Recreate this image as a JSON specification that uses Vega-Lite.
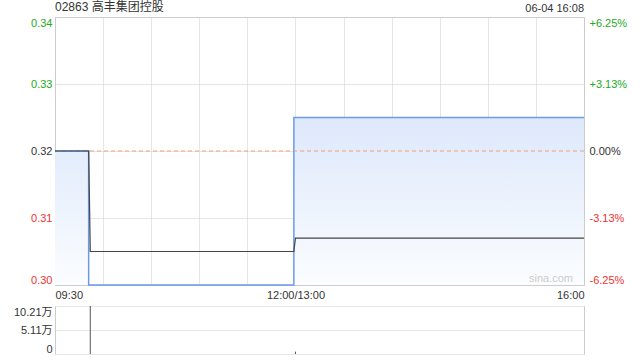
{
  "$schema": "https://vega.github.io/schema/vega-lite/v6.json",
  "autosize": {"type": "pad"},
  "padding": {"left": 13, "top": 0, "right": 0, "bottom": 0},
  "background": "#ffffff",
  "config": {
    "font": "Liberation Sans, Noto Sans CJK SC",
    "view": {"stroke": "#cccccc"},
    "axis": {"labelFont": "Liberation Sans, Noto Sans CJK SC", "labelFontSize": 11, "labelColor": "#333333", "ticks": false, "domain": false, "title": null, "gridColor": "#cccccc", "gridDash": [1, 1]}
  },
  "datasets": {
    "price": [
      {"m": 0, "time": "09:30", "p": 0.32},
      {"m": 21, "time": "09:51", "p": 0.30},
      {"m": 149, "time": "12:59", "p": 0.325},
      {"m": 330, "time": "16:00", "p": 0.325}
    ],
    "avg": [
      {"m": 0, "time": "09:30", "a": 0.32},
      {"m": 21, "time": "09:51", "a": 0.32},
      {"m": 22, "time": "09:52", "a": 0.305},
      {"m": 149, "time": "12:59", "a": 0.305},
      {"m": 150, "time": "13:00", "a": 0.307},
      {"m": 330, "time": "16:00", "a": 0.307}
    ],
    "vol": [
      {"m": 22, "time": "09:52", "v": 102110},
      {"m": 150, "time": "13:00", "v": 5000}
    ]
  },
  "bounds": "flush",
  "spacing": 21,
  "vconcat": [
    {
      "width": 529,
      "height": 268,
      "layer": [
        {
          "data": {"name": "price"},
          "mark": {"type": "area", "interpolate": "step-after", "opacity": 1,
            "fill": {"gradient": "linear", "x1": 0, "y1": 0, "x2": 0, "y2": 1,
              "stops": [{"offset": 0, "color": "#dde8fb"}, {"offset": 1, "color": "#fbfdff"}]}},
          "encoding": {
            "x": {
              "field": "m", "type": "quantitative",
              "scale": {"domain": [0, 330], "nice": false, "zero": false},
              "axis": {
                "values": [0, 30, 60, 90, 120, 150, 180, 210, 240, 270, 300, 330],
                "labelExpr": "datum.value == 0 ? '09:30' : datum.value == 150 ? '12:00/13:00' : datum.value == 330 ? '16:00' : ''",
                "labelFlush": true,
                "labelPadding": 4,
                "grid": true
              }
            },
            "y": {
              "field": "p", "type": "quantitative",
              "scale": {"domain": [0.30, 0.34], "nice": false, "zero": false},
              "axis": {
                "orient": "left",
                "values": [0.30, 0.31, 0.32, 0.33, 0.34],
                "format": ".2f",
                "labelFlush": true,
                "labelPadding": 3,
                "grid": true,
                "labelColor": {"condition": [{"test": "datum.value > 0.3201", "value": "#22aa22"}, {"test": "datum.value < 0.3199", "value": "#ee3333"}], "value": "#333333"}
              }
            },
            "y2": {"datum": 0.30}
          }
        },
        {
          "data": {"values": [{"prev": 0.32}]},
          "mark": {"type": "rule", "color": "#f0a070", "strokeDash": [4, 3], "strokeWidth": 1},
          "encoding": {
            "y": {"field": "prev", "type": "quantitative", "axis": null},
            "x": {"datum": 0, "type": "quantitative"},
            "x2": {"datum": 330}
          }
        },
        {
          "data": {"name": "price"},
          "mark": {"type": "line", "interpolate": "step-after", "color": "#6b9be6", "strokeWidth": 1.5},
          "encoding": {
            "x": {"field": "m", "type": "quantitative"},
            "y": {
              "field": "p", "type": "quantitative",
              "axis": {
                "orient": "right",
                "values": [0.30, 0.31, 0.32, 0.33, 0.34],
                "labelExpr": "(datum.value > 0.3201 ? '+' : datum.value < 0.3199 ? '-' : '') + format(abs(datum.value - 0.32) / 0.32 * 100, '.2f') + '%'",
                "labelFlush": true,
                "labelPadding": 5,
                "grid": false,
                "labelColor": {"condition": [{"test": "datum.value > 0.3201", "value": "#22aa22"}, {"test": "datum.value < 0.3199", "value": "#ee3333"}], "value": "#333333"}
              }
            }
          }
        },
        {
          "data": {"name": "avg"},
          "mark": {"type": "line", "color": "#444444", "strokeWidth": 1.2},
          "encoding": {
            "x": {"field": "m", "type": "quantitative"},
            "y": {"field": "a", "type": "quantitative", "axis": null}
          }
        },
        {
          "data": {"values": [{"label": "02863 高丰集团控股"}]},
          "mark": {"type": "text", "align": "left", "baseline": "bottom", "dy": -3, "fontSize": 12, "color": "#333333"},
          "encoding": {
            "x": {"datum": 0, "type": "quantitative"},
            "y": {"datum": 0.34, "type": "quantitative", "axis": null},
            "text": {"field": "label"}
          }
        },
        {
          "data": {"values": [{"label": "06-04 16:08"}]},
          "mark": {"type": "text", "align": "right", "baseline": "bottom", "dy": -3, "fontSize": 11, "color": "#333333"},
          "encoding": {
            "x": {"datum": 330, "type": "quantitative"},
            "y": {"datum": 0.34, "type": "quantitative", "axis": null},
            "text": {"field": "label"}
          }
        },
        {
          "data": {"values": [{"label": "sina.com"}]},
          "mark": {"type": "text", "align": "right", "baseline": "bottom", "dx": -11, "dy": -1, "fontSize": 11, "color": "#cccccc"},
          "encoding": {
            "x": {"datum": 330, "type": "quantitative"},
            "y": {"datum": 0.30, "type": "quantitative", "axis": null},
            "text": {"field": "label"}
          }
        }
      ],
      "resolve": {"axis": {"y": "independent"}}
    },
    {
      "width": 529,
      "height": 48,
      "view": {"stroke": null},
      "data": {"name": "vol"},
      "mark": {"type": "rule", "color": "#555555", "strokeWidth": 1},
      "encoding": {
        "x": {
          "field": "m", "type": "quantitative",
          "scale": {"domain": [0, 330], "nice": false, "zero": false},
          "axis": {"values": [0, 330], "labels": false, "grid": true, "gridDash": [], "gridColor": "#cccccc"}
        },
        "y": {
          "field": "v", "type": "quantitative",
          "scale": {"domain": [0, 102110], "nice": false},
          "axis": {
            "values": [0, 51055, 102110],
            "labelExpr": "datum.value == 0 ? '0' : format(datum.value / 10000, '.2f') + '万'",
            "labelFlush": true,
            "labelPadding": 3,
            "grid": true
          }
        },
        "y2": {"datum": 0}
      }
    }
  ]
}
